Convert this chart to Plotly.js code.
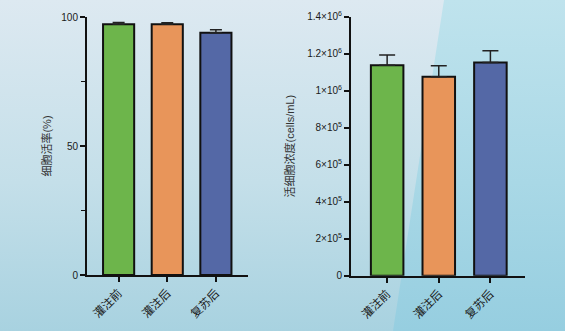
<!DOCTYPE html>
<html>
<head>
<meta charset="utf-8">
<script src="https://cdn.plot.ly/plotly-3.0.1.min.js"></script>
<style>
  html, body { margin: 0; padding: 0; width: 565px; height: 331px; overflow: hidden; }
  #bg1 { position: absolute; left: 0; top: 0; width: 565px; height: 331px;
         background: linear-gradient(to bottom, #dde9f1 0%, #c4dfe9 55%, #a8d2e0 100%); }
  #bg2 { position: absolute; left: 0; top: 0; width: 565px; height: 331px;
         background: linear-gradient(to bottom, #bfe3ed 0%, #a9d8e6 55%, #96cee0 100%);
         clip-path: polygon(444px 0, 565px 0, 565px 331px, 393px 331px); }
  #chart { position: absolute; left: 0; top: 0; width: 565px; height: 331px; }
</style>
</head>
<body>
<div id="bg1"></div>
<div id="bg2"></div>
<div id="chart"></div>
<script>
const categories = ['灌注前', '灌注后', '复苏后'];
const viability = [97.2, 97.2, 93.9];
const viabilitySD = [0.7, 0.6, 1.2];
const concentration = [1.137e6, 1.076e6, 1.153e6];
const concentrationSD = [0.056e6, 0.059e6, 0.063e6];
const concTickVals = [0, 2e5, 4e5, 6e5, 8e5, 1e6, 1.2e6, 1.4e6];
const concTickText = ['0', '2×10<sup>5</sup>', '4×10<sup>5</sup>', '6×10<sup>5</sup>', '8×10<sup>5</sup>',
                      '1×10<sup>6</sup>', '1.2×10<sup>6</sup>', '1.4×10<sup>6</sup>'];
const barColors = ['#6db54b', '#e8955a', '#5468a6'];

const FONT = 'Liberation Sans, Arial, Noto Sans CJK SC, sans-serif';

const traces = [
  {
    type: 'bar', x: categories, y: viability, xaxis: 'x', yaxis: 'y',
    width: 0.64,
    marker: { color: barColors, line: { color: '#111', width: 2 } },
    error_y: { type: 'data', array: viabilitySD, symmetric: false, arrayminus: [0,0,0],
               color: '#222', thickness: 1.5, width: 6 },
    hoverinfo: 'none'
  },
  {
    type: 'bar', x: categories, y: concentration, xaxis: 'x2', yaxis: 'y2',
    width: 0.63,
    marker: { color: barColors, line: { color: '#111', width: 2 } },
    error_y: { type: 'data', array: concentrationSD, symmetric: false, arrayminus: [0,0,0],
               color: '#222', thickness: 1.5, width: 8 },
    hoverinfo: 'none'
  }
];

const axX = {
  type: 'category', showgrid: false, zeroline: false,
  showline: true, linecolor: '#111', linewidth: 2,
  ticks: 'outside', ticklen: 5, tickwidth: 2, tickcolor: '#111',
  tickangle: -45, tickfont: { family: FONT, size: 11.5, color: '#1a1a1a' }
};

const layout = {
  width: 565, height: 331,
  margin: { l: 0, r: 0, t: 0, b: 0 },
  paper_bgcolor: 'rgba(0,0,0,0)', plot_bgcolor: 'rgba(0,0,0,0)',
  showlegend: false,
  font: { family: FONT, color: '#222' },
  xaxis: Object.assign({}, axX, { domain: [87/565, 248/565], range: [-0.65, 2.66], anchor: 'y' }),
  xaxis2: Object.assign({}, axX, { domain: [351/565, 525/565], range: [-0.70, 2.67], anchor: 'y2' }),
  yaxis: {
    domain: [(331-275)/331, (331-17)/331], range: [0, 100], anchor: 'x',
    showgrid: false, zeroline: false, showline: true, linecolor: '#111', linewidth: 2,
    ticks: 'outside', ticklen: 5, tickwidth: 2, tickcolor: '#111',
    tickvals: [0, 50, 100], ticktext: ['0', '50', '100'],
    minor: { tickvals: [25, 75], ticks: 'outside', ticklen: 4, tickwidth: 1.5, tickcolor: '#111' },
    tickfont: { family: FONT, size: 10, color: '#1a1a1a' },
    title: { text: '细胞活率(%)', font: { family: FONT, size: 11, color: '#333' }, standoff: 7 }
  },
  yaxis2: {
    domain: [(331-275.7)/331, (331-16.7)/331], range: [0, 1.4e6], anchor: 'x2',
    showgrid: false, zeroline: false, showline: true, linecolor: '#111', linewidth: 2,
    ticks: 'outside', ticklen: 5, tickwidth: 2, tickcolor: '#111',
    tickvals: concTickVals, ticktext: concTickText,
    tickfont: { family: FONT, size: 10, color: '#1a1a1a' },
    title: { text: '活细胞浓度(cells/mL)', font: { family: FONT, size: 11, color: '#333' }, standoff: 10 }
  }
};

Plotly.newPlot('chart', traces, layout, { displayModeBar: false, staticPlot: true });
</script>
</body>
</html>
